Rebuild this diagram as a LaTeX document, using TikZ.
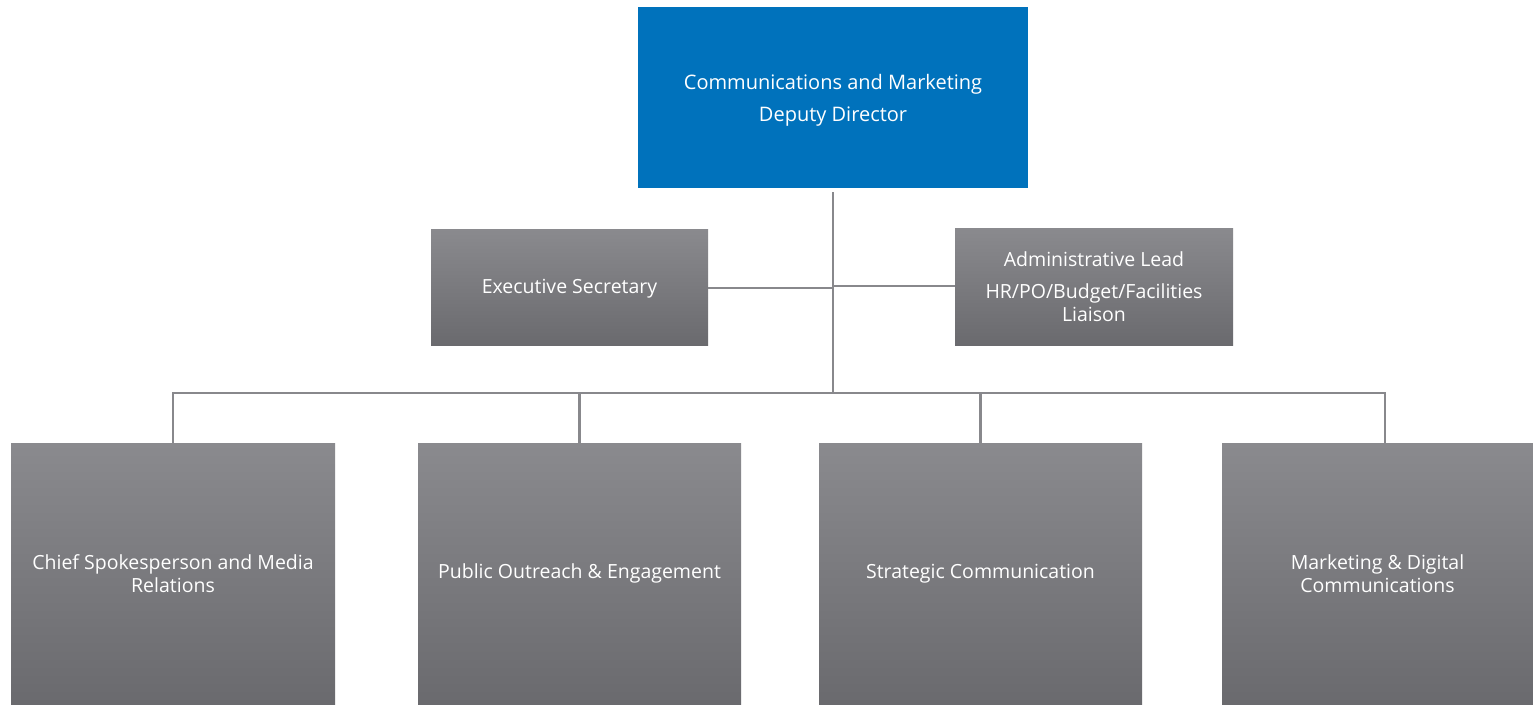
\documentclass[tikz,border=0pt]{standalone}
\usepackage{fontspec}
\setmainfont{Open Sans}
\definecolor{topblue}{HTML}{0072BC}
\definecolor{gtop}{HTML}{8A8A8E}
\definecolor{gbot}{HTML}{6A6A6E}
\definecolor{linegray}{HTML}{88888C}
\begin{document}
\begin{tikzpicture}[x=1pt,y=-1pt,
  box/.style={rectangle, inner sep=0pt, text=white, align=center, font=\fontsize{19.5}{23}\selectfont},
  graybox/.style={box, top color=gtop, bottom color=gbot, draw=none},
  conn/.style={draw=linegray, line width=2.4pt}]
\useasboundingbox (0,0) rectangle (1533,704);
\fill[white] (0,0) rectangle (1533,704);
% top
\node[box, fill=topblue, minimum width=390pt, minimum height=181pt] (dd) at (833,97.5) {};
\node[box, font=\fontsize{20}{23}\selectfont] (ddt) at ([yshift=-3pt]dd.center)
  {Communications and Marketing\\[9pt]Deputy Director};
% middle
\node[graybox, minimum width=277pt, minimum height=116pt] (es) at (569.5,287) {};
\node[box] (est) at ([yshift=-2pt]es.center) {Executive Secretary};
\node[graybox, minimum width=278pt, minimum height=117pt] (al) at (1094,286.5)
  {Administrative Lead\\[9pt]HR/PO/Budget/Facilities\\Liaison};
% bottom
\node[graybox, minimum width=324pt, minimum height=261pt] (b1) at (173,573.5) {Chief Spokesperson and Media\\Relations};
\node[graybox, minimum width=323pt, minimum height=261pt] (b2) at (579.5,573.5) {Public Outreach \& Engagement};
\node[graybox, minimum width=323pt, minimum height=261pt] (b3) at (980.5,573.5) {Strategic Communication};
\node[graybox, minimum width=311pt, minimum height=261pt] (b4) at (1377.5,573.5) {Marketing \& Digital\\Communications};
% connectors
\coordinate (bus) at (833,393);
\coordinate (jl) at (833,288);
\coordinate (jr) at (833,286);
\coordinate (d4) at (1385,393);
\draw[conn] (dd.south) ++(0,4) -- (bus);
\draw[conn] (es.east |- jl) -- (jl);
\draw[conn] (jr) -- (al.west |- jr);
\draw[conn] (b1.north) -- (b1.north |- bus) -- (d4) -- (d4 |- b4.north);
\draw[conn] (b2.north) -- (b2.north |- bus);
\draw[conn] (b3.north) -- (b3.north |- bus);
\end{tikzpicture}
\end{document}
